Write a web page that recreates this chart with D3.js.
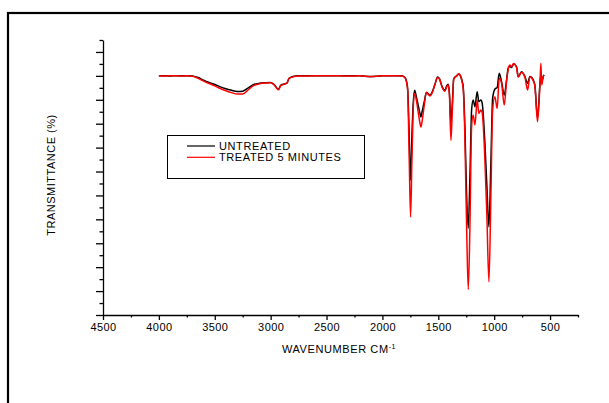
<!DOCTYPE html>
<html>
<head>
<meta charset="utf-8">
<script src="https://cdn.jsdelivr.net/npm/d3@7/dist/d3.min.js"></script>
<style>
  html, body { margin: 0; padding: 0; background: #fff; }
  svg { display: block; font-family: "Liberation Sans", Arial, sans-serif; }
</style>
</head>
<body>
<svg id="chart" width="609" height="403"></svg>
<script>
// FTIR spectra: wavenumber (cm-1) and transmittance (%) for both samples
const wavenumbers = [
  4000, 3950, 3900, 3850, 3800, 3750, 3700, 3650, 3600, 3550, 3500, 3450, 3400, 3350, 3300, 3250,
  3200, 3150, 3100, 3050, 3000, 2970, 2930, 2910, 2880, 2855, 2835, 2800, 2750, 2600, 2500, 2400,
  2300, 2200, 2110, 2000, 1900, 1830, 1800, 1785, 1774, 1762, 1748, 1736, 1725, 1712, 1695, 1680,
  1665, 1656, 1645, 1626, 1606, 1590, 1575, 1554, 1530, 1506, 1490, 1465, 1441, 1425, 1411, 1400,
  1387, 1375, 1362, 1336, 1316, 1300, 1285, 1277, 1262, 1247, 1232, 1217, 1202, 1188, 1172, 1152,
  1137, 1119, 1107, 1083, 1065, 1047, 1029, 1014, 994, 973, 955, 934, 910, 889, 875, 860,
  845, 826, 800, 785, 755, 725, 701, 680, 651, 636, 612, 591, 582, 575, 561, 555
];
const untreated = [
  100.0, 100.1, 99.9, 100.1, 100.0, 100.1, 99.9, 99.3, 98.2, 97.2, 96.4, 95.4, 94.6, 94.0, 93.5, 93.6,
  95.0, 96.4, 96.9, 97.1, 97.2, 96.4, 94.4, 96.0, 96.6, 97.0, 99.0, 99.7, 100.0, 100.1, 100.0, 100.1,
  100.0, 100.0, 99.7, 100.0, 100.1, 100.0, 99.4, 97.8, 94.6, 78.0, 56.3, 75.0, 88.0, 94.0, 91.0, 87.7,
  84.5, 82.8, 85.0, 89.1, 93.0, 92.6, 91.9, 93.3, 96.5, 99.5, 98.8, 95.4, 94.0, 95.8, 96.5, 92.5,
  80.0, 88.0, 98.8, 100.0, 100.8, 99.8, 97.5, 95.5, 78.7, 50.9, 36.3, 57.8, 85.7, 89.9, 87.1, 93.4,
  89.2, 89.9, 88.5, 71.8, 53.7, 36.9, 64.8, 90.6, 94.4, 95.2, 101.1, 97.6, 92.0, 98.3, 103.2, 104.0,
  103.5, 105.0, 103.8, 99.7, 101.7, 99.7, 96.9, 99.7, 98.3, 96.2, 82.5, 96.2, 100.5, 97.5, 99.7, 100.5
];
const treated5min = [
  100.0, 99.9, 100.0, 100.0, 99.9, 100.0, 99.8, 99.0, 97.8, 96.8, 95.8, 94.7, 93.8, 93.0, 92.4, 92.4,
  94.2, 96.0, 96.7, 97.0, 97.1, 96.3, 94.2, 95.9, 96.5, 97.0, 98.9, 99.6, 99.9, 100.0, 100.1, 100.0,
  99.9, 100.0, 99.6, 100.0, 100.0, 99.9, 99.3, 97.6, 93.8, 70.0, 41.0, 65.0, 85.0, 92.6, 89.5, 84.9,
  80.5, 78.6, 81.0, 87.5, 93.2, 92.3, 91.6, 93.0, 96.3, 99.3, 98.7, 95.2, 93.6, 95.4, 96.2, 91.5,
  73.1, 85.0, 98.6, 100.0, 100.9, 99.8, 97.0, 94.5, 74.0, 38.0, 10.7, 36.9, 78.7, 83.6, 79.5, 89.9,
  84.3, 85.7, 84.5, 64.8, 41.0, 13.9, 50.9, 85.7, 91.3, 86.4, 99.0, 97.0, 87.8, 97.8, 102.5, 104.5,
  103.8, 105.2, 103.5, 99.5, 101.5, 99.4, 94.1, 99.6, 98.0, 95.8, 80.8, 96.0, 105.3, 96.2, 99.7, 100.3
];

const seriesNames = ["UNTREATED", "TREATED 5 MINUTES"];
const seriesColors = ["#000000", "#ff0000"];

const xMajorTicks = [4500, 4000, 3500, 3000, 2500, 2000, 1500, 1000, 500];
const xMinorTicks = [4250, 3750, 3250, 2750, 2250, 1750, 1250, 750, 250];
const yMajorTicks = d3.range(0, 111, 10);
const yMinorTicks = d3.range(5, 116, 10);

const svg = d3.select("#chart");

// page frame
svg.append("rect")
  .attr("x", 8).attr("y", 13)
  .attr("width", 640).attr("height", 420)
  .attr("fill", "none").attr("stroke", "#000").attr("stroke-width", 2.2);

const x = d3.scaleLinear().domain([4500, 250]).range([103, 578]);
const y = d3.scaleLinear().domain([0, 115]).range([315, 40]);

// x axis: labelled major ticks and unlabelled minor ticks
const gx = svg.append("g").attr("transform", "translate(0,315)");
gx.call(d3.axisBottom(x).tickValues(xMajorTicks).tickSize(5).tickSizeOuter(0).tickPadding(3).tickFormat(d3.format("d")));
gx.append("g").call(d3.axisBottom(x).tickValues(xMinorTicks).tickSize(2.5).tickSizeOuter(0).tickFormat(""))
  .select(".domain").remove();
gx.selectAll("text").attr("font-size", 11).attr("letter-spacing", 0.4).attr("fill", "#000")
  .attr("font-family", "Liberation Sans, Arial, sans-serif");
gx.selectAll("path, line").attr("stroke", "#000").attr("stroke-width", 1.3);

// y axis: ticks only
const gy = svg.append("g").attr("transform", "translate(103,0)");
gy.call(d3.axisLeft(y).tickValues(yMajorTicks).tickSize(7).tickSizeOuter(0).tickFormat(""));
gy.append("g").call(d3.axisLeft(y).tickValues(yMinorTicks).tickSize(3.5).tickSizeOuter(0).tickFormat(""))
  .select(".domain").remove();
gy.selectAll("path, line").attr("stroke", "#000").attr("stroke-width", 1.3);

// axis titles
const xt = svg.append("text")
  .attr("x", 339).attr("y", 353)
  .attr("text-anchor", "middle").attr("font-size", 11).attr("letter-spacing", 0.6);
xt.append("tspan").text("WAVENUMBER CM");
xt.append("tspan").attr("dy", -4).attr("font-size", 7).text("-1");

svg.append("text")
  .attr("transform", "translate(55,175) rotate(-90)")
  .attr("text-anchor", "middle").attr("font-size", 11).attr("letter-spacing", 0.5)
  .text("TRANSMITTANCE (%)");

// spectra
const seriesValues = [untreated, treated5min];
const line = d3.line()
  .x(d => x(d[0]))
  .y(d => y(d[1]))
  .curve(d3.curveMonotoneX);

seriesValues.forEach((vals, i) => {
  const pts = wavenumbers.map((w, k) => [w, vals[k]]);
  svg.append("path")
    .datum(pts)
    .attr("d", line)
    .attr("fill", "none")
    .attr("stroke", seriesColors[i])
    .attr("stroke-width", 1.5)
    .attr("stroke-linejoin", "round");
});

// legend
const lg = svg.append("g");
lg.append("rect")
  .attr("x", 167.5).attr("y", 135.5).attr("width", 197).attr("height", 43)
  .attr("fill", "none").attr("stroke", "#000").attr("stroke-width", 1);
seriesNames.forEach((name, i) => {
  const ly = 146 + i * 11.3;
  lg.append("line")
    .attr("x1", 187).attr("x2", 215).attr("y1", ly).attr("y2", ly)
    .attr("stroke", seriesColors[i]).attr("stroke-width", 1.2);
  lg.append("text")
    .attr("x", 219).attr("y", ly + 4)
    .attr("font-size", 11).attr("letter-spacing", 0.6)
    .text(name);
});
</script>
</body>
</html>
